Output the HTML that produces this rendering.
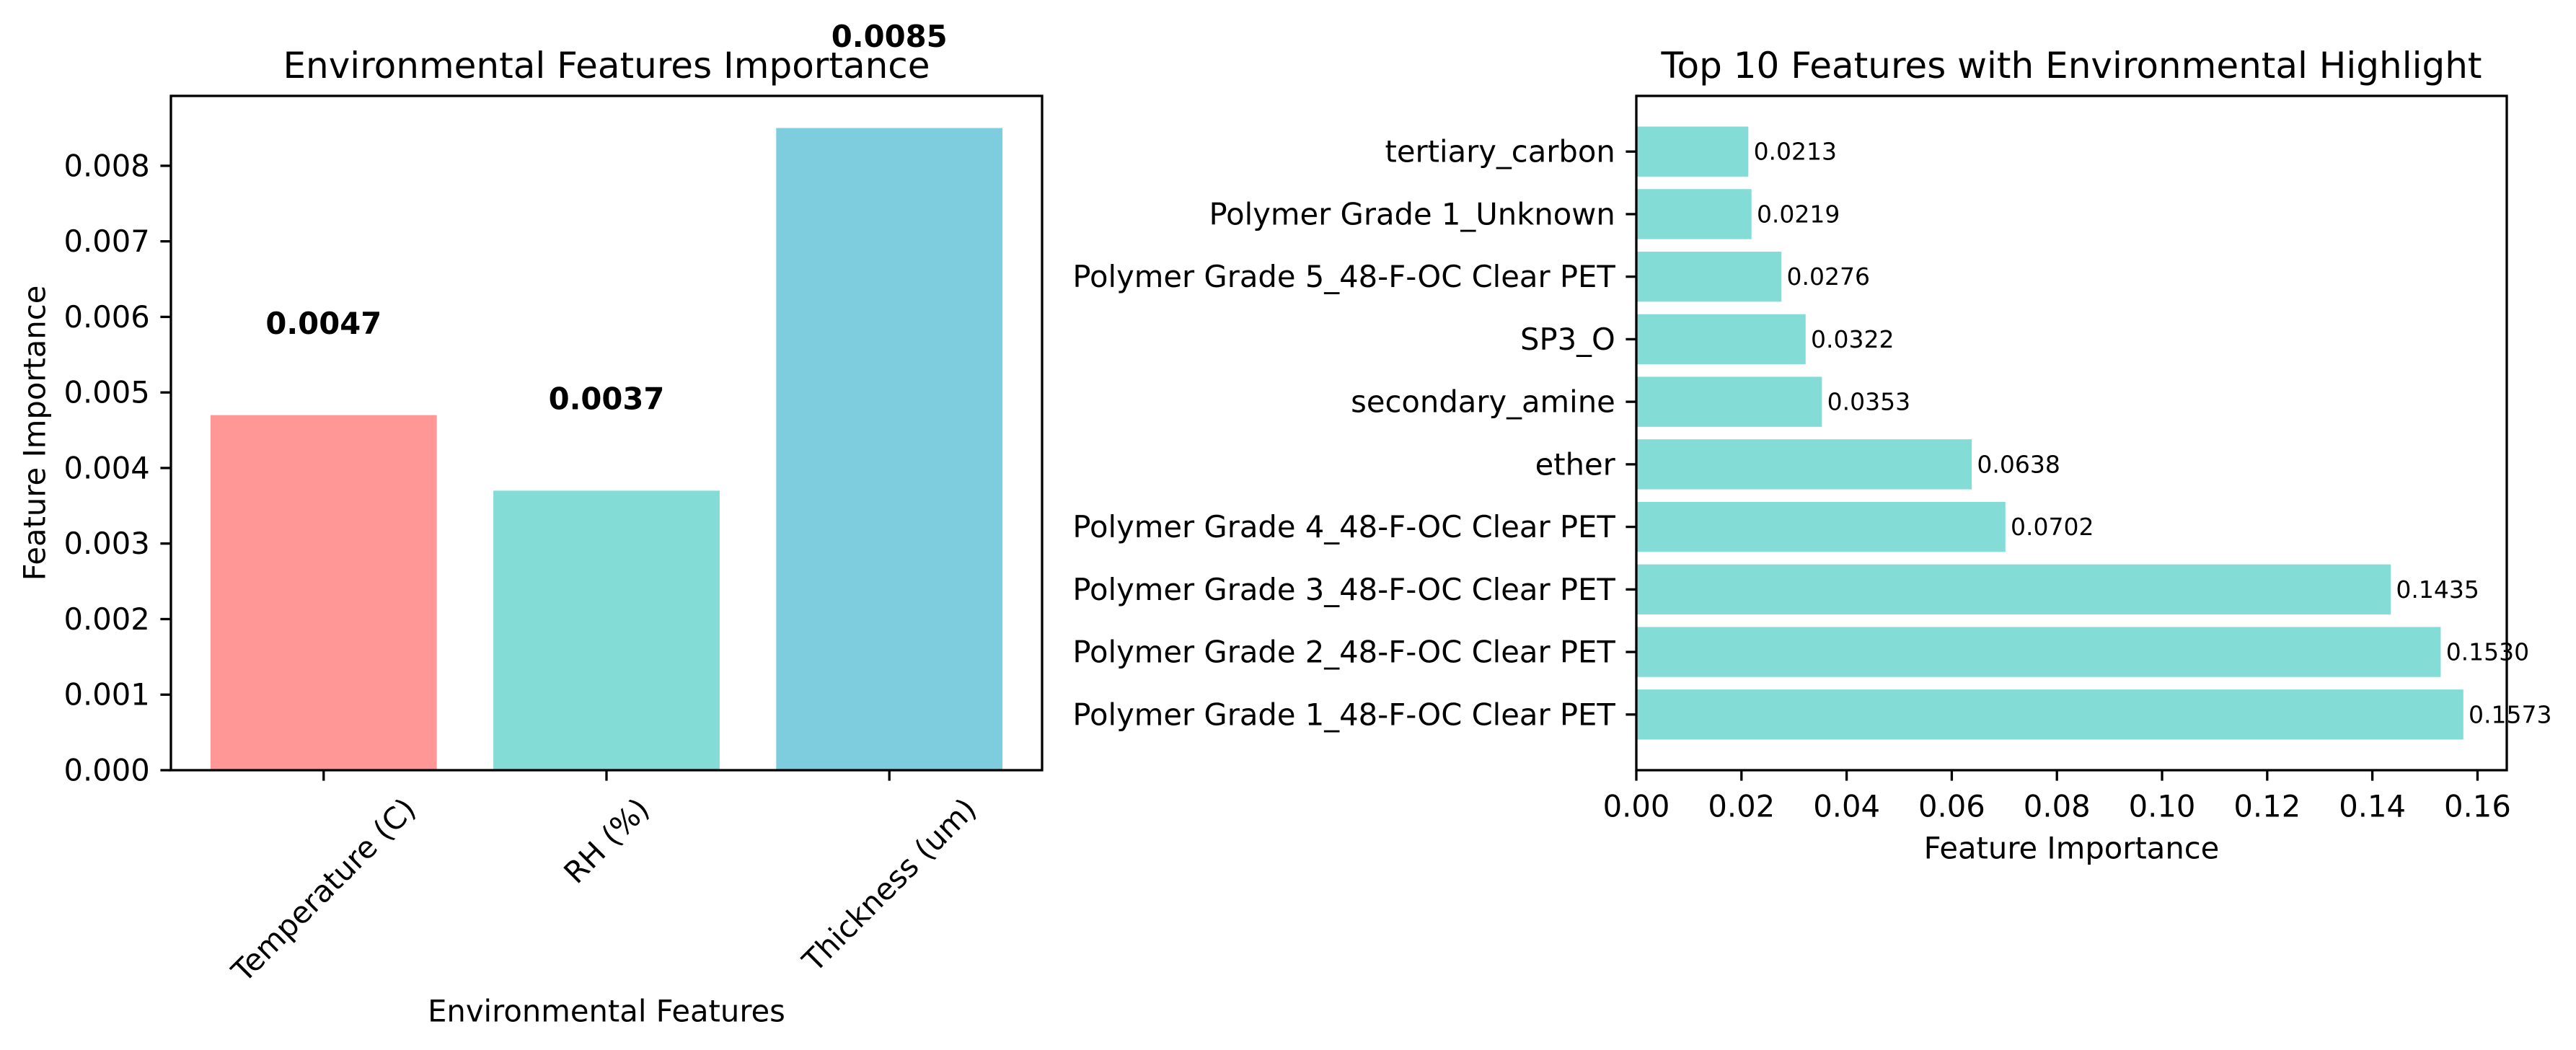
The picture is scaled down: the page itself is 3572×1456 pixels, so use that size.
<!DOCTYPE html>
<html><head><meta charset="utf-8">
<style>
html,body{margin:0;padding:0;background:#fff;}
svg{display:block;font-family:"DejaVu Sans","Liberation Sans",sans-serif;}
</style></head>
<body>
<svg id="fig" width="3572" height="1456" viewBox="0 0 3572 1456" xmlns="http://www.w3.org/2000/svg">
<rect width="3572" height="1456" fill="#fff"/>
<g id="left"></g>
<g id="right"></g>
</svg>
<script>
// Left chart data
const envCategories = ["Temperature (C)", "RH (%)", "Thickness (um)"];
const envValues = [0.0047, 0.0037, 0.0085];
const envLabels = ["0.0047", "0.0037", "0.0085"];
const envColors = ["#FF9797", "#83DCD6", "#7DCDDF"];
const envTicks = [0, 0.001, 0.002, 0.003, 0.004, 0.005, 0.006, 0.007, 0.008];
const envTickLabels = ["0.000","0.001","0.002","0.003","0.004","0.005","0.006","0.007","0.008"];

// Right chart data (bottom to top)
const topCategories = ["Polymer Grade 1_48-F-OC Clear PET","Polymer Grade 2_48-F-OC Clear PET","Polymer Grade 3_48-F-OC Clear PET","Polymer Grade 4_48-F-OC Clear PET","ether","secondary_amine","SP3_O","Polymer Grade 5_48-F-OC Clear PET","Polymer Grade 1_Unknown","tertiary_carbon"];
const topValues = [0.1573, 0.1530, 0.1435, 0.0702, 0.0638, 0.0353, 0.0322, 0.0276, 0.0219, 0.0213];
const topLabels = ["0.1573","0.1530","0.1435","0.0702","0.0638","0.0353","0.0322","0.0276","0.0219","0.0213"];
const topTicks = [0, 0.02, 0.04, 0.06, 0.08, 0.10, 0.12, 0.14, 0.16];
const topTickLabels = ["0.00","0.02","0.04","0.06","0.08","0.10","0.12","0.14","0.16"];

const NS = "http://www.w3.org/2000/svg";
function mk(parent, tag, attrs, text) {
  const e = document.createElementNS(NS, tag);
  for (const k in attrs) e.setAttribute(k, attrs[k]);
  if (text !== undefined) e.textContent = text;
  parent.appendChild(e);
  return e;
}
const FS = 41.7, TL = 14.6, PAD = 14.6, LW = 3.3;

// ---------- Left chart ----------
(function(){
  const g = document.getElementById('left');
  const L = 237, R = 1445, T = 133, B = 1068;
  const maxV = Math.max(...envValues);
  const ymax = maxV * 1.05;
  const n = envCategories.length;
  const xmin = -0.4 - 0.05 * (n - 1 + 0.8), xmax = n - 1 + 0.4 + 0.05 * (n - 1 + 0.8);
  const xs = v => L + (v - xmin) / (xmax - xmin) * (R - L);
  const ys = v => B - v / ymax * (B - T);
  envValues.forEach((v, i) => {
    const r = mk(g, 'rect', {x: xs(i - 0.4), y: ys(v), width: xs(i + 0.4) - xs(i - 0.4), height: B - ys(v), fill: envColors[i]});
    
    
    const t = mk(g, 'text', {x: xs(i), y: ys(v + 0.001) - 8, 'text-anchor': 'middle', 'font-size': FS, 'font-weight': 'bold', fill: '#000'}, envLabels[i]);
    
    
  });
  envTicks.forEach((v, i) => {
    mk(g, 'line', {x1: L - TL, x2: L, y1: ys(v), y2: ys(v), stroke: '#000', 'stroke-width': LW});
    const t = mk(g, 'text', {x: L - TL - PAD, y: ys(v), 'text-anchor': 'end', 'dominant-baseline': 'central', 'font-size': FS}, envTickLabels[i]);
    
    
  });
  envCategories.forEach((c, i) => {
    mk(g, 'line', {x1: xs(i), x2: xs(i), y1: B, y2: B + TL, stroke: '#000', 'stroke-width': LW});
    const t = mk(g, 'text', {x: 0, y: 0, 'text-anchor': 'middle', 'dominant-baseline': 'central', 'font-size': FS}, c);
    
    
    const len = t.getComputedTextLength();
    const cy = B + TL + PAD + (len + 48) * 0.3536;
    t.setAttribute('transform', `translate(${xs(i)},${cy}) rotate(-45)`);
  });
  const f = mk(g, 'rect', {x: L, y: T, width: R - L, height: B - T, fill: 'none', stroke: '#000', 'stroke-width': LW});
  
  
  const ti = mk(g, 'text', {x: (L + R) / 2, y: 108, 'text-anchor': 'middle', 'font-size': 50}, 'Environmental Features Importance');
  
  
  const xl = mk(g, 'text', {x: (L + R) / 2, y: 1402, 'text-anchor': 'middle', 'dominant-baseline': 'central', 'font-size': FS}, 'Environmental Features');
  
  
  const yl = mk(g, 'text', {x: 0, y: 0, 'text-anchor': 'middle', 'dominant-baseline': 'central', 'font-size': FS, transform: `translate(48,${(T + B) / 2}) rotate(-90)`}, 'Feature Importance');
  
  
})();

// ---------- Right chart ----------
(function(){
  const g = document.getElementById('right');
  const L = 2269, R = 3476, T = 133, B = 1068;
  const maxV = Math.max(...topValues);
  const xmax = maxV * 1.05 + 0.0004;
  const n = topCategories.length;
  const ymin = -0.4 - 0.05 * (n - 1 + 0.8), ymax = n - 1 + 0.4 + 0.05 * (n - 1 + 0.8);
  const xs = v => L + v / xmax * (R - L);
  const ys = v => B - (v - ymin) / (ymax - ymin) * (B - T);
  topValues.forEach((v, i) => {
    const r = mk(g, 'rect', {x: L, y: ys(i + 0.4), width: xs(v) - L, height: ys(i - 0.4) - ys(i + 0.4), fill: '#83DCD6'});
    
    
    const t = mk(g, 'text', {x: xs(v + 0.001), y: ys(i), 'dominant-baseline': 'central', 'font-size': 33}, topLabels[i]);
    
    
    mk(g, 'line', {x1: L - TL, x2: L, y1: ys(i), y2: ys(i), stroke: '#000', 'stroke-width': LW});
    const c = mk(g, 'text', {x: L - TL - PAD, y: ys(i), 'text-anchor': 'end', 'dominant-baseline': 'central', 'font-size': FS}, topCategories[i]);
    
    
  });
  topTicks.forEach((v, i) => {
    mk(g, 'line', {x1: xs(v), x2: xs(v), y1: B, y2: B + TL, stroke: '#000', 'stroke-width': LW});
    const t = mk(g, 'text', {x: xs(v), y: 1118, 'text-anchor': 'middle', 'dominant-baseline': 'central', 'font-size': FS}, topTickLabels[i]);
    
    
  });
  const f = mk(g, 'rect', {x: L, y: T, width: R - L, height: B - T, fill: 'none', stroke: '#000', 'stroke-width': LW});
  
  
  const ti = mk(g, 'text', {x: (L + R) / 2, y: 108, 'text-anchor': 'middle', 'font-size': 50}, 'Top 10 Features with Environmental Highlight');
  
  
  const xl = mk(g, 'text', {x: (L + R) / 2, y: 1176, 'text-anchor': 'middle', 'dominant-baseline': 'central', 'font-size': FS}, 'Feature Importance');
  
  
})();
</script>
</body></html>
